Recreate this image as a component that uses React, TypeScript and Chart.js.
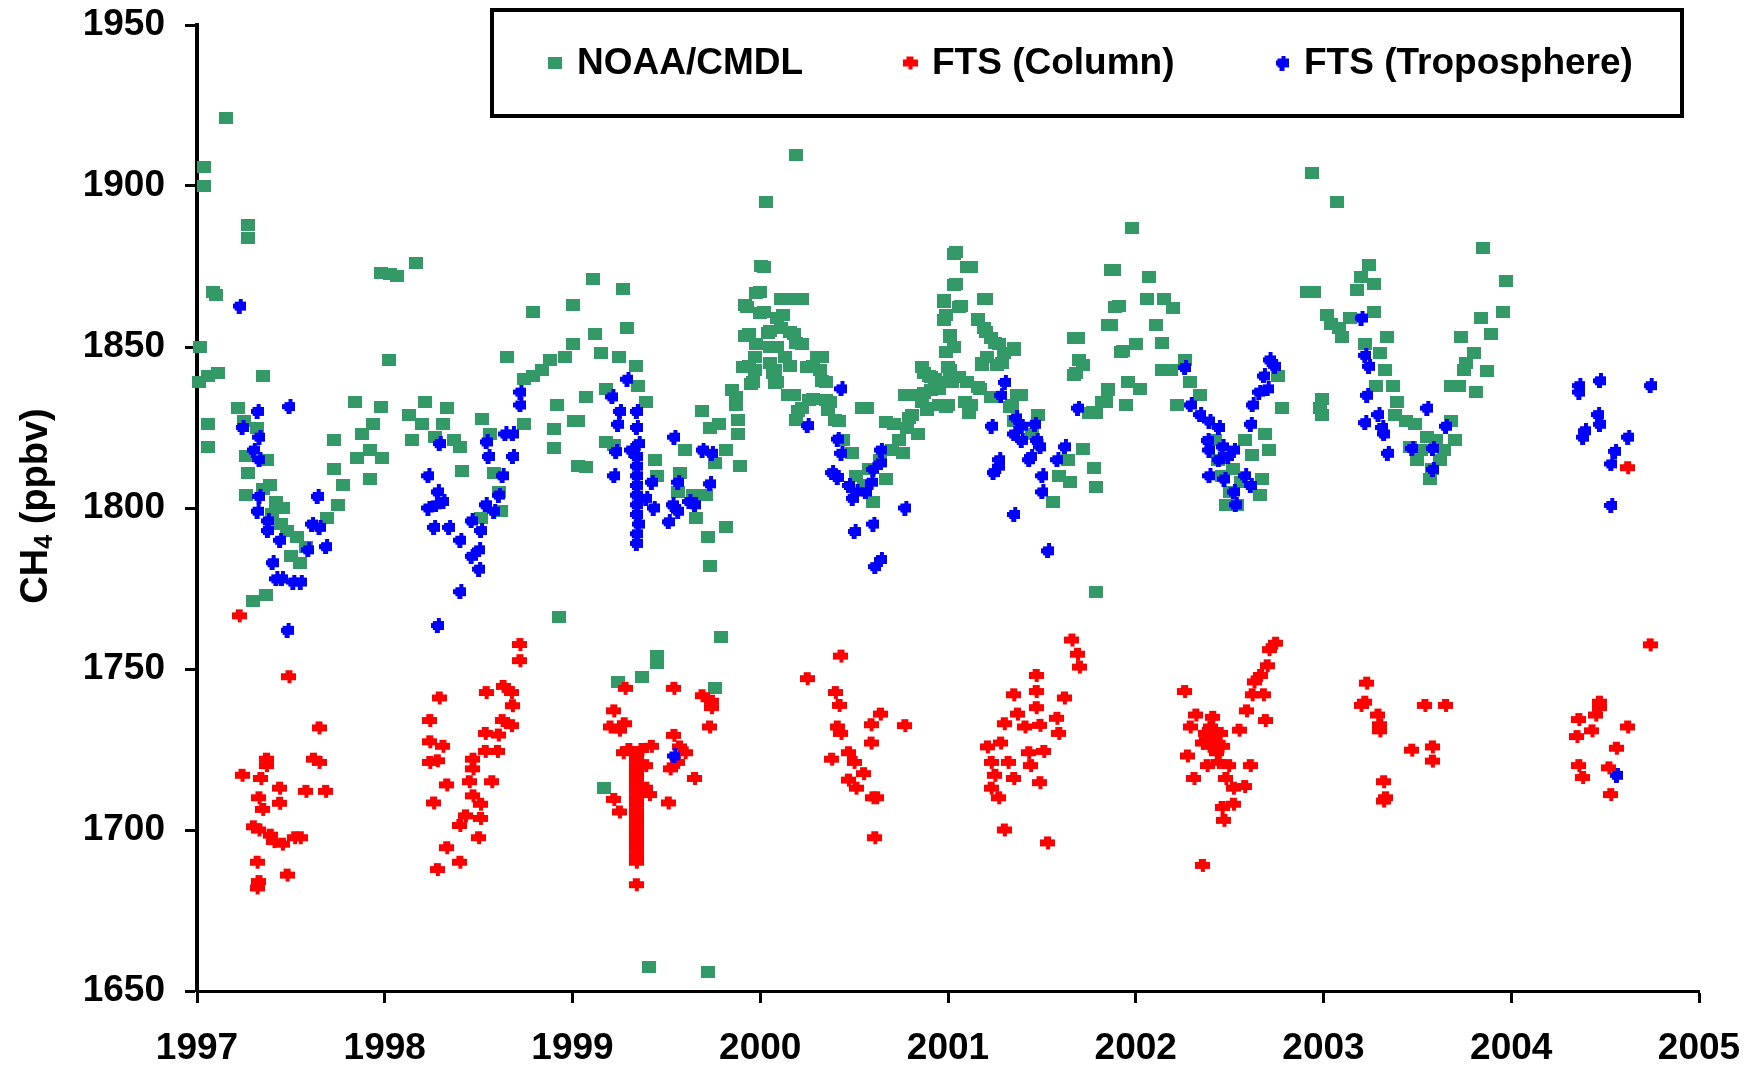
import React, { useEffect, useRef } from 'react';
import { Chart, registerables } from 'chart.js';

Chart.register(...registerables);

// ---- data (decimal year, CH4 ppbv) ----
const xRange = [1997, 2005];
const yRange = [1650, 1950];
const xStep = 1;
const yStep = 50;

const seriesLabels = ['NOAA/CMDL', 'FTS (Column)', 'FTS (Troposphere)'];
const seriesColors = ['#339966', '#ff0000', '#0000ff'];

const noaa: [number, number][] = [
  [1997.156, 1921], [1997.039, 1906], [1997.039, 1900], [1997.27, 1888], [1997.27, 1884], [1997.087, 1867], [1997.10, 1866],
  [1997.018, 1850], [1997.11, 1842], [1997.012, 1839], [1997.057, 1841], [1997.35, 1841], [1997.06, 1826], [1997.06, 1819],
  [1997.216, 1831], [1997.25, 1827], [1997.32, 1825], [1997.26, 1816], [1997.27, 1811], [1997.375, 1815], [1997.39, 1807],
  [1997.26, 1804], [1997.46, 1800], [1997.45, 1795], [1997.53, 1791], [1997.55, 1783], [1997.5, 1785], [1997.37, 1773],
  [1997.3, 1771], [1997.69, 1797], [1997.75, 1801], [1997.78, 1807], [1997.73, 1812], [1997.73, 1821], [1997.84, 1833],
  [1997.98, 1831.5], [1997.88, 1823], [1997.94, 1826], [1997.92, 1818], [1997.985, 1815.5], [1997.85, 1815.5], [1997.92, 1809],
  [1997.40, 1798], [1997.48, 1793], [1997.58, 1788], [1997.35, 1806], [1997.42, 1802],
  [1998.02, 1846], [1998.03, 1872.6], [1998.065, 1872], [1997.98, 1873], [1998.165, 1876], [1998.13, 1829], [1998.215, 1833],
  [1998.145, 1821], [1998.2, 1826], [1998.27, 1822], [1998.33, 1831], [1998.31, 1826], [1998.37, 1821], [1998.40, 1819],
  [1998.41, 1811.5], [1998.52, 1827.5], [1998.56, 1823], [1998.58, 1811], [1998.61, 1805], [1998.62, 1799], [1998.51, 1797],
  [1998.65, 1847], [1998.74, 1840], [1998.79, 1841], [1998.84, 1843], [1998.88, 1846], [1998.79, 1861], [1998.74, 1826],
  [1998.92, 1832], [1998.90, 1824.5], [1998.90, 1818.5], [1998.96, 1847], [1999.0, 1863], [1999.0, 1851], [1999.01, 1827],
  [1998.93, 1766], [1999.03, 1813],
  [1999.11, 1871], [1999.27, 1868], [1999.29, 1856], [1999.12, 1854], [1999.15, 1848], [1999.25, 1847], [1999.07, 1834.5],
  [1999.03, 1827], [1999.18, 1837], [1999.34, 1844], [1999.35, 1838], [1999.39, 1833], [1999.18, 1820.5], [1999.22, 1819.5],
  [1999.07, 1812.7], [1999.44, 1815], [1999.45, 1810], [1999.57, 1811], [1999.60, 1818], [1999.56, 1805], [1999.66, 1797],
  [1999.72, 1791], [1999.73, 1782], [1999.82, 1794], [1999.69, 1830], [1999.73, 1825], [1999.78, 1826], [1999.85, 1836.5],
  [1999.87, 1832], [1999.82, 1818], [1999.76, 1814], [1999.89, 1813], [1999.71, 1804], [1999.64, 1804], [1999.88, 1823],
  [1999.79, 1760], [1999.45, 1754], [1999.45, 1752], [1999.37, 1747.6], [1999.24, 1746], [1999.76, 1744], [1999.17, 1713],
  [1999.41, 1657.6], [1999.72, 1655.8],
  [1999.94, 1854], [1999.92, 1863], [2000.0, 1867], [2000.02, 1861], [2000.02, 1875], [2000.03, 1895], [2000.19, 1909.7],
  [2000.13, 1865], [2000.18, 1865], [1999.94, 1844], [1999.96, 1839], [1999.98, 1851], [2000.05, 1855], [2000.09, 1850],
  [2000.12, 1860], [2000.18, 1854], [2000.22, 1851], [2000.16, 1844], [2000.09, 1839], [2000.13, 1847], [2000.18, 1835],
  [2000.22, 1831], [2000.28, 1844], [2000.33, 1847], [2000.35, 1839], [2000.28, 1834], [2000.37, 1833], [2000.42, 1827],
  [2000.44, 1821], [2000.49, 1817], [2000.57, 1831], [2000.51, 1810], [2000.60, 1802], [2000.67, 1809], [2000.71, 1826],
  [2000.74, 1821], [2000.81, 1829], [2000.81, 1835], [2000.90, 1841], [2000.95, 1837], [2000.89, 1831], [2001.0, 1832],
  [2001.02, 1839], [2000.76, 1817], [2000.84, 1823], [2000.05, 1845], [2000.07, 1842], [2000.11, 1856], [2000.55, 1807],
  [2000.58, 1812], [2000.64, 1815], [2000.70, 1818], [2000.78, 1825], [2000.86, 1833], [2000.93, 1840],
  [2000.004, 1875.1], [1999.98, 1866.7], [2000.11, 1864.8], [2000.22, 1864.8], [1999.93, 1862.5], [2000.0, 1860.5],
  [2000.09, 1858.9], [1999.92, 1853.4], [2000.04, 1854.2], [2000.16, 1854.7], [2000.19, 1851.1], [2000.05, 1850.1],
  [1999.97, 1847], [2000.13, 1847], [2000.30, 1847], [1999.91, 1843.7], [1999.97, 1842.9], [2000.08, 1842.9],
  [2000.25, 1843.9], [2000.32, 1842.9], [1999.95, 1838.5], [2000.08, 1838.7], [2000.33, 1839.3], [2000.15, 1835.1],
  [2000.26, 1833.6], [2000.35, 1833.6], [2000.20, 1830], [2000.36, 1830.4], [2000.40, 1827.3], [1999.87, 1834.6],
  [1999.88, 1827.3], [2000.54, 1831], [2000.67, 1826.8], [2000.77, 1835.1], [2000.87, 1841.8], [2000.87, 1835.6],
  [2000.89, 1830.4], [2000.79, 1827.8], [2000.86, 1843.9], [2000.19, 1827.3],
  [2001.04, 1879.6], [2001.12, 1875], [2001.04, 1869.6], [2000.98, 1864.7], [2001.07, 1862.7], [2000.99, 1860], [2001.01, 1853.8],
  [2001.03, 1850], [2001.20, 1865], [2001.16, 1858.7], [2001.19, 1855.8], [2001.23, 1852.8], [2001.27, 1850.8], [2001.35, 1849],
  [2001.18, 1844.5], [2001.26, 1844.5], [2001.01, 1842.8], [2000.95, 1839], [2001.10, 1839], [2001.17, 1837], [2001.12, 1832],
  [2000.99, 1831.5], [2001.39, 1835], [2001.34, 1832], [2001.35, 1827], [2001.48, 1829], [2001.45, 1823], [2001.64, 1815],
  [2001.59, 1810], [2001.56, 1802], [2001.65, 1808], [2001.69, 1852.8], [2001.72, 1844.5], [2001.68, 1841.8], [2001.72, 1818.4],
  [2001.78, 1812.5], [2001.79, 1806.5], [2001.79, 1774], [2001.885, 1874], [2001.91, 1862.7], [2001.87, 1856.7], [2001.93, 1848.8],
  [2002.0, 1851], [2001.98, 1887], [2002.07, 1871.6], [2002.06, 1865], [2002.15, 1865], [2002.2, 1862], [2002.11, 1856.7],
  [2002.14, 1851.2], [2001.96, 1839], [2002.02, 1837], [2001.95, 1832], [2001.85, 1837], [2001.84, 1833], [2001.79, 1829.4],
  [2001.75, 1829.4], [2002.14, 1842.8], [2002.19, 1842.8], [2002.22, 1832], [2002.26, 1846], [2002.29, 1839], [2002.34, 1835],
  [2002.42, 1821], [2002.46, 1810], [2002.48, 1801], [2002.54, 1801], [2002.58, 1821], [2002.62, 1816.5], [2002.67, 1809],
  [2002.66, 1804], [2002.69, 1823], [2002.71, 1818], [2002.76, 1841], [2002.78, 1831], [2002.94, 1904], [2002.95, 1867],
  [2002.98, 1831], [2002.50, 1805], [2002.56, 1808], [2002.52, 1812], [2002.44, 1815],
  [2001.03, 1879], [2001.10, 1874.9], [2001.03, 1869.2], [2000.98, 1864.1], [2001.06, 1862.5], [2001.19, 1864.8],
  [2000.98, 1858.4], [2001.16, 1858.4], [2001.20, 1854.7], [2001.01, 1853.2], [2001.25, 1851.1], [2001.35, 1849.6],
  [2000.99, 1848.5], [2001.21, 1847], [2001.30, 1848], [2001.0, 1843.9], [2001.18, 1844.9], [2001.29, 1844.9],
  [2000.91, 1840.8], [2001.06, 1840.8], [2001.16, 1837.7], [2000.91, 1836.7], [2000.95, 1832], [2001.09, 1833],
  [2001.23, 1834.6], [2001.37, 1835.1], [2001.33, 1831.5], [2001.11, 1829.4], [2001.67, 1852.7], [2001.70, 1846],
  [2001.67, 1841.3], [2001.87, 1873.8], [2001.89, 1862.5], [2001.85, 1856.8], [2001.92, 1848.5], [2001.85, 1836.7],
  [2001.82, 1833], [2001.77, 1829.9],
  [2003.07, 1895], [2002.91, 1867], [2003.24, 1875.6], [2003.20, 1871.6], [2003.27, 1869.6], [2003.18, 1867.7], [2003.02, 1860],
  [2003.08, 1856], [2003.14, 1859], [2003.27, 1861], [2003.34, 1853], [2003.22, 1851], [2003.30, 1848], [2003.33, 1843],
  [2003.28, 1838], [2003.37, 1838], [2003.39, 1833], [2003.38, 1829], [2003.44, 1827], [2003.49, 1826], [2003.46, 1819],
  [2003.50, 1815], [2003.565, 1809], [2003.60, 1821], [2003.62, 1815], [2003.68, 1827], [2003.70, 1821], [2002.99, 1834],
  [2002.99, 1829], [2003.68, 1838], [2003.75, 1843], [2003.73, 1853], [2003.80, 1848], [2003.87, 1842.5], [2003.81, 1836],
  [2003.84, 1859], [2003.89, 1854], [2003.955, 1861], [2003.97, 1870.6], [2003.85, 1880.6], [2003.76, 1845], [2003.52, 1818],
  [2003.55, 1822], [2003.58, 1812], [2003.64, 1818], [2003.72, 1838], [2003.10, 1853], [2003.04, 1857],
];

const ftsColumn: [number, number][] = [
  [1997.225, 1766.5], [1997.49, 1747.6], [1997.65, 1731.7], [1997.37, 1722], [1997.37, 1720], [1997.62, 1722], [1997.65, 1721],
  [1997.24, 1717], [1997.34, 1716], [1997.33, 1710], [1997.35, 1706.4], [1997.44, 1713], [1997.44, 1708.3], [1997.58, 1712],
  [1997.685, 1712], [1997.30, 1701], [1997.33, 1700], [1997.39, 1698.4], [1997.41, 1696.4], [1997.455, 1695.6], [1997.52, 1697.6],
  [1997.55, 1697.6], [1997.32, 1690], [1997.32, 1682], [1997.33, 1684], [1997.48, 1686],
  [1998.29, 1741], [1998.24, 1734], [1998.24, 1727.4], [1998.31, 1726], [1998.28, 1721.5], [1998.24, 1721], [1998.33, 1714],
  [1998.26, 1708.4], [1998.33, 1694.5], [1998.28, 1687.7], [1998.40, 1690], [1998.40, 1701.4], [1998.43, 1704.4], [1998.47, 1722],
  [1998.47, 1719], [1998.45, 1715], [1998.47, 1710.6], [1998.51, 1708], [1998.51, 1703.6], [1998.50, 1697.6], [1998.535, 1730],
  [1998.535, 1724.4], [1998.60, 1724.4], [1998.605, 1729.5], [1998.57, 1715], [1998.54, 1742.7], [1998.625, 1734], [1998.675, 1732.4],
  [1998.63, 1744.6], [1998.675, 1742.7], [1998.68, 1738.6], [1998.72, 1757.6], [1998.72, 1752.6],
  [1999.28, 1744], [1999.22, 1737], [1999.20, 1732], [1999.275, 1733], [1999.25, 1731], [1999.27, 1724], [1999.30, 1725], [1999.37, 1725],
  [1999.34, 1724], [1999.34, 1722], [1999.34, 1720], [1999.34, 1718], [1999.34, 1716], [1999.34, 1714], [1999.34, 1712],
  [1999.34, 1710], [1999.34, 1708], [1999.34, 1706], [1999.34, 1704], [1999.34, 1702], [1999.34, 1700], [1999.34, 1698],
  [1999.34, 1696], [1999.34, 1694], [1999.34, 1692], [1999.34, 1690], [1999.34, 1683],
  [1999.42, 1726], [1999.39, 1720], [1999.41, 1711], [1999.39, 1713], [1999.22, 1709.5], [1999.25, 1705.6], [1999.54, 1744],
  [1999.54, 1729.4], [1999.57, 1725.8], [1999.60, 1724], [1999.52, 1719], [1999.56, 1721], [1999.51, 1708.4], [1999.65, 1716],
  [1999.69, 1741.7], [1999.74, 1740], [1999.74, 1738], [1999.73, 1732],
  [2000.43, 1754], [2000.25, 1747], [2000.40, 1742.7], [2000.42, 1738.7], [2000.41, 1732], [2000.43, 1730], [2000.38, 1722],
  [2000.47, 1724], [2000.50, 1721], [2000.47, 1715.5], [2000.51, 1713], [2000.55, 1717.5], [2000.59, 1732.7], [2000.64, 1736],
  [2000.59, 1727], [2000.62, 1710], [2000.60, 1710], [2000.61, 1697.6], [2000.77, 1732.4],
  [2001.21, 1725.8], [2001.23, 1721], [2001.25, 1717], [2001.23, 1713], [2001.27, 1710], [2001.28, 1727], [2001.30, 1733],
  [2001.32, 1721], [2001.30, 1700], [2001.35, 1742], [2001.35, 1716], [2001.37, 1736], [2001.41, 1732], [2001.43, 1724],
  [2001.44, 1720], [2001.47, 1748], [2001.47, 1743], [2001.47, 1738], [2001.49, 1732.5], [2001.51, 1724.4], [2001.49, 1714.7],
  [2001.53, 1696], [2001.58, 1734.7], [2001.59, 1730], [2001.62, 1741], [2001.66, 1759], [2001.69, 1754.6], [2001.70, 1750.6],
  [2002.26, 1743], [2002.32, 1735.7], [2002.29, 1732], [2002.37, 1730], [2002.41, 1735], [2002.42, 1728], [2002.46, 1726],
  [2002.355, 1727], [2002.275, 1723], [2002.38, 1720], [2002.44, 1721], [2002.495, 1720], [2002.48, 1716], [2002.52, 1713],
  [2002.58, 1713.5], [2002.61, 1720], [2002.31, 1716], [2002.46, 1707], [2002.52, 1708], [2002.47, 1703], [2002.355, 1689],
  [2002.55, 1731], [2002.59, 1737], [2002.62, 1742], [2002.63, 1746], [2002.665, 1748], [2002.69, 1734], [2002.70, 1751],
  [2002.71, 1756], [2002.745, 1758], [2002.68, 1742], [2002.40, 1732], [2002.43, 1724], [2002.45, 1730], [2002.39, 1726],
  [2003.23, 1745.6], [2003.22, 1739.7], [2003.20, 1738.7], [2003.29, 1735.7], [2003.30, 1732.7], [2003.30, 1730.8], [2003.32, 1715],
  [2003.33, 1710], [2003.32, 1709], [2003.54, 1738.7], [2003.65, 1738.7], [2003.47, 1724.8], [2003.58, 1725.8], [2003.58, 1721.4],
  [2004.74, 1757.5], [2004.47, 1739.7], [2004.47, 1738], [2004.45, 1735.7], [2004.36, 1734.3], [2004.43, 1730.8], [2004.35, 1729],
  [2004.62, 1732], [2004.62, 1812.5], [2004.56, 1725.4], [2004.36, 1720], [2004.38, 1716.3], [2004.52, 1719.3], [2004.53, 1711],
];

const ftsTroposphere: [number, number][] = [
  [1997.225, 1862.7], [1997.32, 1830], [1997.49, 1831.5], [1997.24, 1825], [1997.33, 1822], [1997.30, 1818], [1997.33, 1815],
  [1997.33, 1803.6], [1997.32, 1799], [1997.375, 1796], [1997.375, 1793], [1997.44, 1790], [1997.64, 1803.6], [1997.61, 1795],
  [1997.65, 1794], [1997.59, 1787], [1997.685, 1788], [1997.40, 1783], [1997.45, 1778], [1997.42, 1778], [1997.51, 1777],
  [1997.55, 1777], [1997.48, 1762],
  [1998.23, 1810], [1998.28, 1805], [1998.29, 1820], [1998.27, 1801], [1998.31, 1802], [1998.23, 1800], [1998.26, 1794],
  [1998.34, 1794], [1998.40, 1790], [1998.46, 1796], [1998.51, 1793], [1998.50, 1787], [1998.46, 1785], [1998.40, 1774],
  [1998.50, 1781], [1998.28, 1763.5], [1998.535, 1801], [1998.58, 1799], [1998.605, 1804], [1998.625, 1810], [1998.54, 1820.5],
  [1998.55, 1816], [1998.68, 1823], [1998.64, 1823], [1998.68, 1816], [1998.72, 1836], [1998.72, 1832],
  [1999.29, 1840], [1999.21, 1834.5], [1999.25, 1830], [1999.24, 1826], [1999.34, 1830], [1999.34, 1825], [1999.23, 1817.5],
  [1999.31, 1818], [1999.34, 1813], [1999.34, 1807], [1999.34, 1801], [1999.35, 1795], [1999.34, 1789], [1999.22, 1810],
  [1999.39, 1803], [1999.43, 1800], [1999.42, 1808], [1999.54, 1822], [1999.56, 1808], [1999.53, 1801], [1999.56, 1799],
  [1999.51, 1795.7], [1999.62, 1802], [1999.65, 1801], [1999.69, 1818], [1999.74, 1817], [1999.73, 1807.5], [1999.54, 1723],
  [1999.34, 1816], [1999.34, 1810], [1999.34, 1804], [1999.34, 1798], [1999.34, 1792], [1999.35, 1820],
  [2000.43, 1837], [2000.25, 1825.6], [2000.41, 1821.4], [2000.43, 1817], [2000.38, 1811], [2000.41, 1809.5], [2000.47, 1807],
  [2000.49, 1803], [2000.51, 1805], [2000.56, 1805], [2000.60, 1812], [2000.64, 1818], [2000.64, 1814], [2000.59, 1808],
  [2000.60, 1795], [2000.50, 1792.7], [2000.64, 1784], [2000.61, 1781.8], [2000.77, 1800],
  [2001.30, 1839], [2001.28, 1835], [2001.23, 1825.4], [2001.36, 1828], [2001.39, 1825.4], [2001.35, 1823], [2001.39, 1821],
  [2001.46, 1826], [2001.47, 1821], [2001.44, 1816], [2001.49, 1819], [2001.27, 1815], [2001.24, 1811], [2001.27, 1813],
  [2001.43, 1815], [2001.50, 1810], [2001.50, 1805], [2001.58, 1815], [2001.62, 1819], [2001.35, 1798], [2001.53, 1786.7],
  [2001.69, 1831],
  [2002.26, 1843.6], [2002.29, 1832], [2002.34, 1829], [2002.39, 1827], [2002.44, 1825], [2002.38, 1821], [2002.39, 1818],
  [2002.46, 1819], [2002.52, 1818], [2002.49, 1816], [2002.44, 1815], [2002.39, 1810], [2002.47, 1809], [2002.52, 1805],
  [2002.53, 1801], [2002.58, 1810], [2002.61, 1807], [2002.61, 1826], [2002.62, 1832], [2002.655, 1836], [2002.68, 1841],
  [2002.71, 1846], [2002.74, 1844], [2002.70, 1837],
  [2003.20, 1859], [2003.22, 1847.4], [2003.24, 1844], [2003.23, 1835], [2003.22, 1826.5], [2003.29, 1829], [2003.31, 1825],
  [2003.32, 1823], [2003.34, 1817], [2003.55, 1831], [2003.65, 1825.4], [2003.47, 1818.5], [2003.58, 1818.5], [2003.58, 1812],
  [2004.36, 1838], [2004.36, 1836], [2004.47, 1839.5], [2004.74, 1838], [2004.46, 1829], [2004.47, 1826], [2004.39, 1824],
  [2004.38, 1822], [2004.62, 1822], [2004.55, 1817.6], [2004.53, 1813.7], [2004.53, 1800.8], [2004.56, 1717],
];

const FONT = "'Liberation Sans', Arial, sans-serif";

function makeCanvas(w: number, h: number, draw: (c: CanvasRenderingContext2D) => void) {
  const c = document.createElement('canvas');
  c.width = w;
  c.height = h;
  const ctx = c.getContext('2d')!;
  draw(ctx);
  return c;
}

function greenMarker(color: string) {
  return makeCanvas(14, 12, (c) => {
    c.fillStyle = color;
    c.fillRect(0, 0, 14, 12);
  });
}

function redMarker(color: string) {
  return makeCanvas(15, 15, (c) => {
    c.fillStyle = color;
    c.fillRect(0, 4, 15, 7);
    c.fillRect(4, 1, 7, 3);
    c.fillRect(6, 11, 4, 3);
  });
}

function blueMarker(color: string) {
  return makeCanvas(13, 15, (c) => {
    c.fillStyle = color;
    c.fillRect(2, 3, 11, 9);
    c.fillRect(0, 5, 2, 5);
    c.fillRect(6, 0, 4, 3);
    c.fillRect(4, 12, 5, 3);
  });
}

export default function App() {
  const ref = useRef<HTMLCanvasElement | null>(null);

  useEffect(() => {
    if (!ref.current) return;
    const markers = [greenMarker(seriesColors[0]), redMarker(seriesColors[1]), blueMarker(seriesColors[2])];
    const seriesData = [noaa, ftsColumn, ftsTroposphere];

    const titlePlugin = {
      id: 'yTitleLegend',
      afterDraw(chart: any) {
        const ctx = chart.ctx as CanvasRenderingContext2D;
        // y axis title with subscript
        ctx.save();
        ctx.translate(37, 506);
        ctx.rotate(-Math.PI / 2);
        ctx.fillStyle = '#000';
        ctx.textBaseline = 'middle';
        const big = `bold 38px ${FONT}`;
        const small = `bold 25px ${FONT}`;
        ctx.font = big;
        const w1 = ctx.measureText('CH').width;
        const w3 = ctx.measureText(' (ppbv)').width;
        ctx.font = small;
        const w2 = ctx.measureText('4').width;
        const total = w1 + w2 + w3;
        let x = -total / 2;
        ctx.font = big;
        ctx.textAlign = 'left';
        ctx.fillText('CH', x, 0);
        x += w1;
        ctx.font = small;
        ctx.fillText('4', x, 8);
        x += w2;
        ctx.font = big;
        ctx.fillText(' (ppbv)', x, 0);
        ctx.restore();

        // legend box
        ctx.save();
        ctx.fillStyle = '#fff';
        ctx.fillRect(492, 10, 1190, 106);
        ctx.strokeStyle = '#000';
        ctx.lineWidth = 4;
        ctx.strokeRect(492, 10, 1190, 106);
        const items = [
          { mx: 555, tx: 577 },
          { mx: 910, tx: 932 },
          { mx: 1282, tx: 1304 },
        ];
        ctx.font = `bold 37px ${FONT}`;
        ctx.textBaseline = 'middle';
        ctx.textAlign = 'left';
        chart.data.datasets.forEach((ds: any, i: number) => {
          const m = markers[i];
          ctx.drawImage(m, items[i].mx - m.width / 2, 63 - m.height / 2);
          ctx.fillStyle = '#000';
          ctx.fillText(ds.label, items[i].tx, 64);
        });
        ctx.restore();
      },
    };

    const tickFont = { family: FONT, size: 37, weight: 'bold' as const };

    const chart = new Chart(ref.current, {
      type: 'scatter',
      data: {
        datasets: seriesData.map((pts, i) => ({
          label: seriesLabels[i],
          data: pts.map(([x, y]) => ({ x, y })),
          pointStyle: markers[i] as any,
          pointRadius: 7,
          pointHoverRadius: 7,
          backgroundColor: seriesColors[i],
          borderColor: seriesColors[i],
          order: 3 - i,
          clip: false as any,
        })),
      },
      options: {
        responsive: false,
        animation: false,
        devicePixelRatio: 1,
        layout: { padding: { left: 0, right: 56, top: 25, bottom: 0 } },
        plugins: { legend: { display: false }, tooltip: { enabled: false } },
        scales: {
          x: {
            type: 'linear',
            min: xRange[0],
            max: xRange[1],
            afterFit: (s: any) => { s.height = 75; s.paddingLeft = 0; s.paddingRight = 0; },
            ticks: {
              stepSize: xStep,
              autoSkip: false,
              maxRotation: 0,
              color: '#000',
              font: tickFont,
              padding: 24,
              callback: (v: any) => String(v),
            },
            grid: { drawOnChartArea: false, drawTicks: true, tickLength: 12, tickWidth: 3, tickColor: '#000', color: '#000' },
            border: { display: true, color: '#000', width: 3 },
          },
          y: {
            type: 'linear',
            min: yRange[0],
            max: yRange[1],
            afterFit: (s: any) => { s.width = 197; s.paddingTop = 0; s.paddingBottom = 0; },
            ticks: {
              stepSize: yStep,
              color: '#000',
              font: tickFont,
              padding: 20,
              callback: (v: any) => String(v),
            },
            grid: { drawOnChartArea: false, drawTicks: true, tickLength: 12, tickWidth: 3, tickColor: '#000', color: '#000' },
            border: { display: true, color: '#000', width: 4 },
          },
        },
      },
      plugins: [titlePlugin],
    });
    return () => chart.destroy();
  }, []);

  return (
    <div style={{ position: 'absolute', left: 0, top: 0, width: 1755, height: 1066, background: '#fff' }}>
      <canvas ref={ref} width={1755} height={1066} style={{ display: 'block', width: 1755, height: 1066 }} />
    </div>
  );
}
